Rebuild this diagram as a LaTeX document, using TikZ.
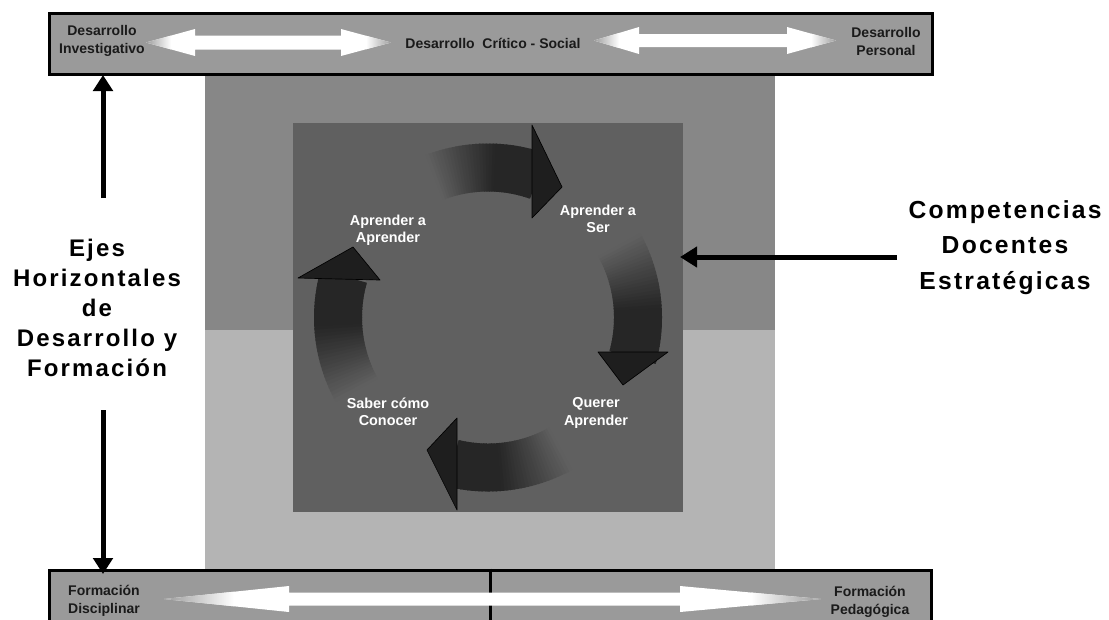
\documentclass[tikz,border=0pt]{standalone}
\usepackage{fontspec}
\setmainfont{Liberation Sans}
\newfontfamily\spacedfont{Liberation Sans}[LetterSpace=9]
\usetikzlibrary{arrows.meta}
\definecolor{barc}{HTML}{9A9A9A}
\definecolor{upperc}{HTML}{878787}
\definecolor{lowerc}{HTML}{B4B4B4}
\definecolor{innerc}{HTML}{606060}
\definecolor{dk}{HTML}{262626}
\definecolor{txtc}{HTML}{1A1A1A}
\newcommand{\whitearrow}[8]{%
  \begin{scope}
    \clip (#1,#5) -- (#2,#5-#7) -- (#2,#5-#6) -- (#3,#5-#6) -- (#3,#5-#7) -- (#4,#5)
      -- (#3,#5+#7) -- (#3,#5+#6) -- (#2,#5+#6) -- (#2,#5+#7) -- cycle;
    \fill[white] (#1,#5-#7) rectangle (#4,#5+#7);
    \shade[left color=barc, right color=white] (#1-1,#5-#7) rectangle (#1+#8,#5+#7);
    \shade[left color=white, right color=barc] (#4-#8,#5-#7) rectangle (#4+1,#5+#7);
  \end{scope}}
% #1 tail angle, #2 shaft end angle, #3 inner base, #4 outer base, #5 tip
\newcommand{\cycarrow}[5]{%
  \foreach \i in {0,...,35}{%
    \pgfmathsetmacro\aa{#1+(#2-#1)*\i/36}%
    \pgfmathsetmacro\bb{#1+(#2-#1)*min(36,\i+1.4)/36}%
    \pgfmathtruncatemacro\pp{min(100,(\i+0.5)/36*175)}%
    \fill[dk!\pp!innerc] plot[domain=\aa:\bb,samples=4] ({488+174*cos(\x)},{317.5-174*sin(\x)})
      -- plot[domain=\bb:\aa,samples=4] ({488+126*cos(\x)},{317.5-126*sin(\x)}) -- cycle;
  }%
  \fill[dk!80!black, draw=black, line width=0.5pt, line join=round] (#3) -- (#4) -- (#5) -- cycle;
}
\tikzset{
  barbox/.style={draw=black, line width=2.25pt, fill=barc, inner sep=0pt},
  bartext/.style={font=\bfseries\fontsize{10.5}{13.5}\selectfont, text=txtc, align=center, inner sep=0pt},
  cyctext/.style={font=\bfseries\fontsize{10.8}{12.9}\selectfont, text=white, align=center, inner sep=0pt},
  bigarrow/.style={line width=3.75pt, -{Triangle[length=12pt,width=14.5pt]}},
}
\begin{document}
\begin{tikzpicture}[x=0.75pt,y=-0.75pt]
\useasboundingbox (0,0) rectangle (1109,619);
\clip (0,0) rectangle (1109,619);

% central panels
\fill[upperc] (205,74) rectangle (775,330);
\fill[lowerc] (205,330) rectangle (775,570);
\fill[innerc] (293,123) rectangle (683,512);

% top bar
\node[barbox, minimum width=662.25pt, minimum height=45.75pt] (topbar) at (490.5,43.5) {};
\whitearrow{146}{195}{341}{391}{42.5}{7}{13.5}{25}
\whitearrow{594}{639}{787}{836}{40.5}{6.5}{13.5}{25}
\node[bartext] (dinv) at (102,41) {Desarrollo\\Investigativo};
\node[bartext] (dcrit) at (493,43.5) {Desarrollo\ \ Crítico - Social};
\node[bartext] (dper) at (886,41.5) {Desarrollo\\Personal};

% bottom bar
\node[barbox, minimum width=661.5pt, minimum height=52.5pt] (botbar) at (490,605) {};
\draw[line width=2.25pt] (botbar.north) -- (botbar.south);
\whitearrow{164}{289}{680}{821}{599}{6.5}{13}{70}
\node[bartext, align=left] (fdis) at (104,600.5) {Formación\\Disciplinar};
\node[bartext] (fped) at (870,602) {Formación\\Pedagógica};

% cycle arrows
\cycarrow{111}{70.5}{532,218}{532,125}{562,187}
\cycarrow{29}{-15.5}{598,352}{668,352}{623,385}
\cycarrow{-61}{-103.5}{457,418}{457,510}{427,450}
\cycarrow{209}{164}{380,280}{298,278}{353,247}
\node[cyctext] (c1) at (388,230.5) {Aprender a\\Aprender};
\node[cyctext] (c2) at (598,218.5) {Aprender a\\Ser};
\node[cyctext] (c3) at (596,413) {Querer\\Aprender};
\node[cyctext] (c4) at (388,412) {Saber cómo\\Conocer};

% side labels
\node[font=\spacedfont\bfseries\fontsize{18}{22.5}\selectfont, align=center, inner sep=0pt] (ejes) at (97,308)
  {Ejes\\Horizontales\\de\\Desarrollo y\\Formación};
\node[font=\spacedfont\bfseries\fontsize{18.5}{26.5}\selectfont, align=center, inner sep=0pt] (comp) at (1005,247.5)
  {Competencias\\Docentes\\Estratégicas};

% connectors
\coordinate (upS) at (103,198);
\coordinate (upE) at (103,75);
\coordinate (dnS) at (103,410);
\coordinate (dnE) at (103,574);
\coordinate (rS) at (897,257);
\coordinate (rE) at (680,257);
\draw[bigarrow] (upS) -- (upE);
\draw[bigarrow] (dnS) -- (dnE);
\draw[line width=3.75pt, -{Triangle[length=12.75pt,width=15pt]}] (rS) -- (rE);
\end{tikzpicture}
\end{document}
